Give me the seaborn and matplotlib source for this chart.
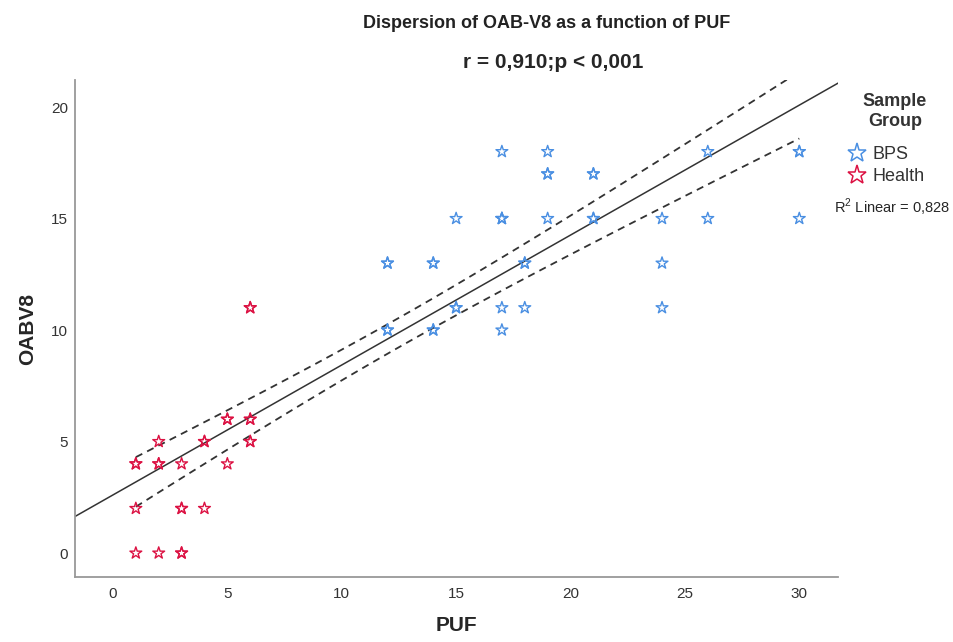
import numpy as np
import pandas as pd
import matplotlib
matplotlib.use("Agg")
import matplotlib.pyplot as plt
import seaborn as sns
from matplotlib.lines import Line2D

# Data (duplicates where stars overlap)
bps_puf  = [12, 14, 15, 17, 19, 17, 19, 21, 19, 21, 17, 17, 19, 21, 21, 24, 26, 30, 26, 30, 30,
            18, 18, 24, 12, 12, 14, 14, 15, 15, 17, 18, 17, 24, 12, 14]
bps_oab  = [13, 13, 15, 18, 18, 15, 17, 17, 17, 17, 15, 15, 15, 15, 15, 15, 15, 15, 18, 18, 18,
            13, 13, 13, 10, 10, 10, 10, 11, 11, 11, 11, 10, 11, 13, 13]
hl_puf   = [1, 1, 1, 1, 2, 2, 2, 2, 3, 3, 3, 3, 3, 4, 4, 4, 5, 5, 5, 6, 6, 6, 6, 6, 6]
hl_oab   = [4, 4, 2, 0, 5, 4, 4, 0, 4, 2, 2, 0, 0, 5, 5, 2, 6, 6, 4, 11, 11, 6, 6, 5, 5]
groups = ["BPS", "Health"]
title = "Dispersion of OAB-V8 as a function of PUF"
subtitle = "r = 0,910;p < 0,001"
r2_label = "R$^2$ Linear = 0,828"

df = pd.DataFrame({
    "PUF": bps_puf + hl_puf,
    "OABV8": bps_oab + hl_oab,
    "Sample Group": ["BPS"] * len(bps_puf) + ["Health"] * len(hl_puf),
})

sns.set_style("white")
plt.rcParams["font.family"] = ["Liberation Sans", "DejaVu Sans"]
plt.rcParams["mathtext.fontset"] = "custom"
plt.rcParams["mathtext.rm"] = "Liberation Sans"

palette = {"BPS": "#4A8FE2", "Health": "#DC1243"}

fig = plt.figure(figsize=(9.54, 6.42), dpi=100)
ax = fig.add_axes([0.0786, 0.101, 0.8, 0.774])

sns.scatterplot(data=df, x="PUF", y="OABV8", hue="Sample Group", palette=palette,
                marker="*", s=80, linewidth=1.0, ax=ax, legend=False, zorder=3)
for coll in ax.collections:
    fc = coll.get_facecolors()
    coll.set_edgecolors(fc)
    coll.set_facecolors("none")

# Linear fit and 95% CI of the mean
x = df["PUF"].to_numpy(float)
y = df["OABV8"].to_numpy(float)
n = len(x)
b, a = np.polyfit(x, y, 1)
xmin, xmax = -1.66, 31.7
xl = np.array([xmin, xmax])
ax.plot(xl, a + b * xl, color="#333333", lw=1.1, zorder=2)
xs = np.linspace(x.min(), x.max(), 100)
resid = y - (a + b * x)
s = np.sqrt(np.sum(resid ** 2) / (n - 2))
se = s * np.sqrt(1 / n + (xs - x.mean()) ** 2 / np.sum((x - x.mean()) ** 2))
t = 2.0
ax.plot(xs, a + b * xs + t * se, color="#333333", lw=1.3, ls=(0, (4, 3)), zorder=2)
ax.plot(xs, a + b * xs - t * se, color="#333333", lw=1.3, ls=(0, (4, 3)), zorder=2)

ax.set_xlim(xmin, xmax)
ax.set_ylim(-1.08, 21.2)
ax.set_xticks([0, 5, 10, 15, 20, 25, 30])
ax.set_yticks([0, 5, 10, 15, 20])
ax.tick_params(axis="x", labelsize=11, colors="#333333", length=0, pad=7)
ax.tick_params(axis="y", labelsize=11, colors="#333333", length=0, pad=5)
for sp in ["top", "right"]:
    ax.spines[sp].set_visible(False)
for sp in ["left", "bottom"]:
    ax.spines[sp].set_color("#999999")
    ax.spines[sp].set_linewidth(1.3)

ax.set_xlabel("PUF", fontsize=15, fontweight="bold", labelpad=11)
ax.set_ylabel("OABV8", fontsize=15, fontweight="bold", labelpad=10)

fig.text(0.573, 0.964, title, ha="center", va="center", fontsize=13, fontweight="bold",
         color="#222222")
fig.text(0.580, 0.903, subtitle, ha="center", va="center", fontsize=15, fontweight="bold")

fig.text(0.938, 0.826, "Sample\nGroup", ha="center", va="center", fontsize=13,
         fontweight="bold", color="#333333", linespacing=1.25)
handles = [Line2D([], [], marker="*", ls="none", markersize=14, markerfacecolor="none",
                  markeredgecolor=palette[g], markeredgewidth=1.1) for g in groups]
leg = fig.legend(handles, groups, loc="upper left",
                 bbox_to_anchor=(0.886, 0.772), frameon=False, fontsize=13,
                 handletextpad=0.2, handlelength=1.3, borderpad=0.0, labelspacing=0.25,
                 borderaxespad=0.0)
for txt in leg.get_texts():
    txt.set_color("#333333")
fig.text(0.935, 0.677, r2_label, ha="center", va="center", fontsize=10.5)

fig.savefig("out.png", dpi=100)
